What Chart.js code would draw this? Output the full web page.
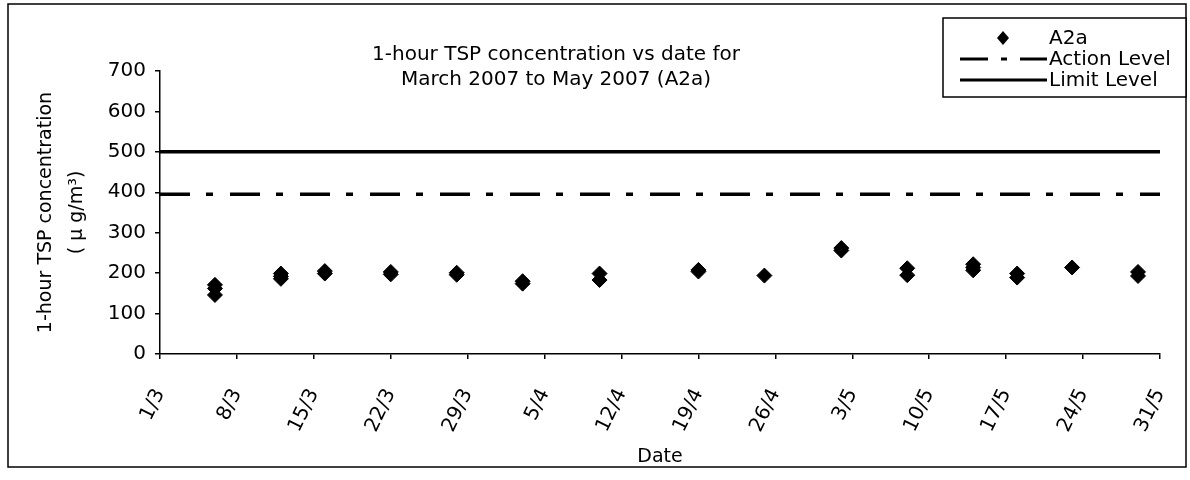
<!DOCTYPE html>
<html>
<head>
<meta charset="utf-8">
<title>1-hour TSP concentration (A2a)</title>
<script src="https://cdn.jsdelivr.net/npm/chart.js@4.4.1/dist/chart.umd.min.js"></script>
<style>
  html, body { margin: 0; padding: 0; background: #fff; }
  #wrap { position: relative; width: 1190px; height: 480px; }
</style>
</head>
<body>
<div id="wrap"><canvas id="tspChart" width="1190" height="480"></canvas></div>
<script>
// x axis tick labels, one per week from 1 March 2007
const tickLabels = ['1/3', '8/3', '15/3', '22/3', '29/3', '5/4', '12/4', '19/4', '26/4', '3/5', '10/5', '17/5', '24/5', '31/5'];

// monitoring days (d/m) and the 1-hour TSP readings taken on each day
const sampleDates = ['6/3', '12/3', '16/3', '22/3', '28/3', '3/4', '10/4', '19/4', '25/4', '2/5', '8/5', '14/5', '18/5', '23/5', '29/5'];
const a2aValues = [
  [171, 162, 146],
  [199, 192, 186],
  [205, 199],
  [203, 197],
  [201, 196],
  [180, 174],
  [199, 183],
  [208, 204],
  [194],
  [262, 256],
  [212, 195],
  [222, 214, 207],
  [199, 189],
  [214],
  [203, 193]
];

const actionLevel = 395;
const limitLevel = 500;

const titleLines = ['1-hour TSP concentration vs date for', 'March 2007 to May 2007 (A2a)'];

// day number counted from 1 March 2007
const monthStart = { 3: 0, 4: 31, 5: 61 };
function dayOf(dm) {
  const [d, m] = dm.split('/').map(Number);
  return monthStart[m] + d - 1;
}

const lastDay = dayOf(tickLabels[tickLabels.length - 1]);

const a2aPoints = [];
sampleDates.forEach((dm, i) => {
  a2aValues[i].forEach(v => a2aPoints.push({ x: dayOf(dm), y: v }));
});

Chart.defaults.font.family = "'DejaVu Sans', sans-serif";
Chart.defaults.color = '#000';

const FONT = "'DejaVu Sans', sans-serif";

// white page, outer frame and the chart title
const framePlugin = {
  id: 'framePlugin',
  beforeDraw(chart) {
    const ctx = chart.ctx;
    ctx.save();
    ctx.fillStyle = '#fff';
    ctx.fillRect(0, 0, chart.width, chart.height);
    ctx.restore();
  },
  afterDraw(chart) {
    const ctx = chart.ctx;
    ctx.save();
    ctx.strokeStyle = '#000';
    ctx.lineWidth = 1.5;
    ctx.strokeRect(8, 4, 1178, 463);

    ctx.fillStyle = '#000';
    ctx.font = '20px ' + FONT;
    ctx.textAlign = 'center';
    ctx.textBaseline = 'middle';
    ctx.fillText(titleLines[0], 556, 55);
    ctx.fillText(titleLines[1], 556, 80);
    ctx.restore();
  }
};

// boxed legend in the top right corner, built from the datasets
const legendPlugin = {
  id: 'legendPlugin',
  afterDraw(chart) {
    const ctx = chart.ctx;
    const box = { x: 943, y: 18, w: 243, h: 79 };
    ctx.save();
    ctx.fillStyle = '#fff';
    ctx.fillRect(box.x, box.y, box.w, box.h);
    ctx.strokeStyle = '#000';
    ctx.lineWidth = 1.5;
    ctx.strokeRect(box.x, box.y, box.w, box.h);

    const rowY = [38, 59, 80];
    ctx.font = '20px ' + FONT;
    ctx.textBaseline = 'middle';
    ctx.textAlign = 'left';
    chart.data.datasets.forEach((ds, i) => {
      const y = rowY[i];
      ctx.fillStyle = '#000';
      ctx.strokeStyle = '#000';
      if (ds.showLine) {
        ctx.lineWidth = 3;
        ctx.setLineDash(ds.legendDash || []);
        ctx.beginPath();
        ctx.moveTo(960, y);
        ctx.lineTo(1047, y);
        ctx.stroke();
        ctx.setLineDash([]);
      } else {
        ctx.beginPath();
        ctx.moveTo(1003, y - 7);
        ctx.lineTo(1009, y);
        ctx.lineTo(1003, y + 7);
        ctx.lineTo(997, y);
        ctx.closePath();
        ctx.fill();
      }
      ctx.fillText(ds.label, 1049, y + 1);
    });
    ctx.restore();
  }
};

const ctx = document.getElementById('tspChart').getContext('2d');
new Chart(ctx, {
  type: 'scatter',
  data: {
    datasets: [
      {
        label: 'A2a',
        data: a2aPoints,
        showLine: false,
        pointStyle: 'rectRot',
        pointRadius: 7.5,
        pointBorderWidth: 1,
        backgroundColor: '#000',
        borderColor: '#000'
      },
      {
        label: 'Action Level',
        data: [{ x: 0, y: actionLevel }, { x: lastDay, y: actionLevel }],
        showLine: true,
        borderColor: '#000',
        borderWidth: 3.5,
        borderDash: [30, 16, 7, 17],
        legendDash: [28, 13, 6, 13],
        pointRadius: 0
      },
      {
        label: 'Limit Level',
        data: [{ x: 0, y: limitLevel }, { x: lastDay, y: limitLevel }],
        showLine: true,
        borderColor: '#000',
        borderWidth: 3.5,
        pointRadius: 0
      }
    ]
  },
  options: {
    responsive: false,
    animation: false,
    layout: { padding: { top: 71, right: 30, bottom: 10, left: 0 } },
    plugins: {
      legend: { display: false },
      tooltip: { enabled: false }
    },
    scales: {
      x: {
        type: 'linear',
        min: 0,
        max: lastDay,
        afterFit: scale => {
          scale.height = 116;
          scale.paddingLeft = 0;
          scale.paddingRight = 0;
        },
        afterBuildTicks: scale => {
          scale.ticks = tickLabels.map(dm => ({ value: dayOf(dm) }));
        },
        ticks: {
          autoSkip: false,
          maxRotation: 64,
          minRotation: 64,
          padding: 26,
          font: { size: 20, family: FONT },
          color: '#000',
          callback: (v, i) => tickLabels[i]
        },
        grid: {
          display: true,
          drawOnChartArea: false,
          drawTicks: true,
          tickLength: 5,
          color: '#000',
          lineWidth: 1.5
        },
        border: { display: true, color: '#000', width: 1.5 },
        title: {
          display: true,
          text: 'Date',
          font: { size: 19, family: FONT },
          color: '#000',
          padding: { top: 0, bottom: 2 }
        }
      },
      y: {
        min: 0,
        max: 700,
        afterFit: scale => { scale.width = 160; },
        ticks: {
          stepSize: 100,
          padding: 9,
          font: { size: 20, family: FONT },
          color: '#000'
        },
        grid: {
          display: true,
          drawOnChartArea: false,
          drawTicks: true,
          tickLength: 5,
          color: '#000',
          lineWidth: 1.5
        },
        border: { display: true, color: '#000', width: 1.5 },
        title: {
          display: true,
          text: ['1-hour TSP concentration', '( \u03bc g/m\u00b3)'],
          font: { size: 19, family: FONT, lineHeight: 1.6 },
          color: '#000',
          padding: { top: 31, bottom: 0 }
        }
      }
    }
  },
  plugins: [framePlugin, legendPlugin]
});
</script>
</body>
</html>
